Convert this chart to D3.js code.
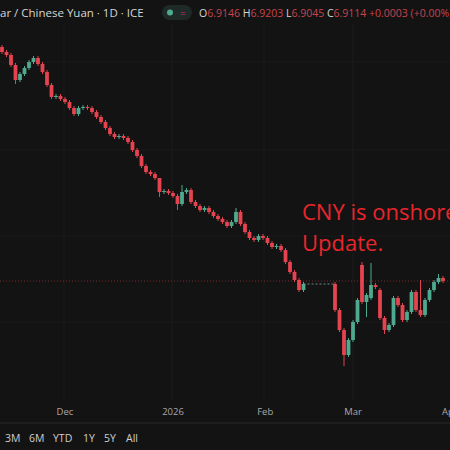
<!DOCTYPE html>
<html><head><meta charset="utf-8">
<script src="https://cdn.jsdelivr.net/npm/d3@7/dist/d3.min.js"></script>
<style>body{margin:0;background:#131313;overflow:hidden}svg{display:block}</style>
</head><body>
<svg id="chart" width="450" height="450"></svg>
<script>
// daily closes (USD/CNH-style), null = holiday gap
const closes = [7.140,7.137,7.127,7.112,7.118,7.124,7.130,7.134,7.128,7.120,7.107,7.095,7.096,7.093,7.090,7.084,7.078,7.084,7.085,7.084,7.080,7.075,7.070,7.064,7.058,7.055,7.056,7.054,7.050,7.042,7.036,7.026,7.020,7.018,7.014,7.000,7.001,6.999,6.996,6.988,7.000,7.002,6.990,6.986,6.982,6.984,6.980,6.976,6.973,6.970,6.966,6.970,6.980,6.968,6.960,6.954,6.952,6.956,6.954,6.949,6.945,6.946,6.942,6.930,6.920,6.912,6.902,6.908,
  null,null,null,null,null,null,
  6.882,6.862,6.837,6.852,6.870,6.892,6.890,6.897,6.907,6.905,6.874,6.862,6.867,6.894,6.887,6.872,6.880,6.900,6.882,6.877,6.892,6.902,6.910,6.914,6.911]
// opens that differ from the previous close
const openOverrides = {0: 7.145, 74: 6.908, 80: 6.927, 82: 6.894, 84: 6.902}
// notable wicks
const highOverrides = {35: 7.012, 40: 7.007, 52: 6.984, 82: 6.929, 80: 6.930, 93: 6.912, 97: 6.918}
const lowOverrides = {3: 7.108, 35: 6.995, 39: 6.982, 76: 6.826, 85: 6.858, 81: 6.875}
const timeTicks = [{i: 14, label: 'Dec'}, {i: 38, label: '2026'}, {i: 58.5, label: 'Feb'}, {i: 78, label: 'Mar'}, {i: 99.5, label: 'Apr'}]
const ranges = ['3M', '6M', 'YTD', '1Y', '5Y', 'All']
const lastPrice = 6.911

const up = '#4fa98f', down = '#e5434f'
const svg = d3.select('#chart')
const x = d3.scaleLinear().domain([0, closes.length - 1]).range([2, 443])
const y = d3.scaleLinear().domain([7.192, 6.742]).range([0, 450])

// bars
const bars = []
let prev = null
closes.forEach((c, i) => {
  if (c === null) return
  const o = openOverrides[i] !== undefined ? openOverrides[i] : prev
  const h = highOverrides[i] !== undefined ? highOverrides[i] : Math.max(o, c) + 0.002
  const l = lowOverrides[i] !== undefined ? lowOverrides[i] : Math.min(o, c) - 0.002
  bars.push({i, o, h, l, c})
  prev = c
})

// grid
const g = svg.append('g')
;[64, 172, 264, 353].forEach(v => g.append('line').attr('x1', v).attr('x2', v).attr('y1', 24).attr('y2', 400).attr('stroke', '#1d1d1d'))
;[62, 150, 236, 322].forEach(v => g.append('line').attr('x1', 0).attr('x2', 450).attr('y1', v).attr('y2', v).attr('stroke', '#1b1b1b'))

// last price line
svg.append('line').attr('x1', 0).attr('x2', 450).attr('y1', y(lastPrice)).attr('y2', y(lastPrice))
  .attr('stroke', '#7a2a30').attr('stroke-dasharray', '1,2')

// holiday gap
svg.append('line').attr('x1', x(67)).attr('x2', x(74)).attr('y1', y(6.908)).attr('y2', y(6.908))
  .attr('stroke', '#6a8f86').attr('stroke-dasharray', '2,2')

const cg = svg.append('g')
cg.selectAll('line.w').data(bars).enter().append('line')
  .attr('x1', d => x(d.i)).attr('x2', d => x(d.i)).attr('y1', d => y(d.h)).attr('y2', d => y(d.l))
  .attr('stroke', d => d.c >= d.o ? up : down)
cg.selectAll('rect').data(bars).enter().append('rect')
  .attr('x', d => x(d.i) - 1.9).attr('width', 3.8)
  .attr('y', d => y(Math.max(d.o, d.c)))
  .attr('height', d => Math.max(1, Math.abs(y(d.o) - y(d.c))))
  .attr('fill', d => d.c >= d.o ? up : down)

// header
svg.append('text').attr('x', 0).attr('y', 17).attr('fill', '#d6d6d6')
  .style('font', '500 11.5px "Open Sans", sans-serif').text('ar / Chinese Yuan · 1D · ICE')
svg.append('rect').attr('x', 162).attr('y', 5).attr('width', 30).attr('height', 15).attr('rx', 7.5).attr('fill', '#1f2a28')
svg.append('circle').attr('cx', 170).attr('cy', 12.5).attr('r', 3).attr('fill', '#4fa98f')
svg.append('text').attr('x', 180).attr('y', 17).attr('fill', '#c2395a').style('font', '10px "Open Sans", sans-serif').text('=')
const ohlc = svg.append('text').attr('x', 199).attr('y', 17).style('font', '10.5px "Open Sans", sans-serif')
;[['O', '6.9146 '], ['H', '6.9203 '], ['L', '6.9045 '], ['C', '6.9114 '], ['', '+0.0003 (+0.00%)']].forEach(([k, v]) => {
  if (k) ohlc.append('tspan').attr('fill', '#d6d6d6').text(k)
  ohlc.append('tspan').attr('fill', '#c8444f').text(v)
})

// annotation
svg.append('text').attr('x', 302).attr('y', 220).attr('fill', '#e8262b')
  .style('font', '22px "Open Sans", sans-serif').text('CNY is onshore')
svg.append('text').attr('x', 302).attr('y', 251).attr('fill', '#e8262b')
  .style('font', '22px "Open Sans", sans-serif').text('Update.')

// time axis
svg.selectAll('text.t').data(timeTicks).enter().append('text')
  .attr('x', d => x(d.i)).attr('y', 415).attr('text-anchor', 'middle').attr('fill', '#a8a8a8')
  .style('font', '9.5px "Open Sans", sans-serif').text(d => d.label)
svg.append('line').attr('x1', 0).attr('x2', 450).attr('y1', 423).attr('y2', 423).attr('stroke', '#2a2a2a')
const rx = [5, 29, 53, 83, 104, 126]
svg.selectAll('text.r').data(ranges).enter().append('text')
  .attr('x', (d, i) => rx[i]).attr('y', 442).attr('fill', '#cfcfcf')
  .style('font', '10.5px "Open Sans", sans-serif').text(d => d)
</script>
</body></html>
